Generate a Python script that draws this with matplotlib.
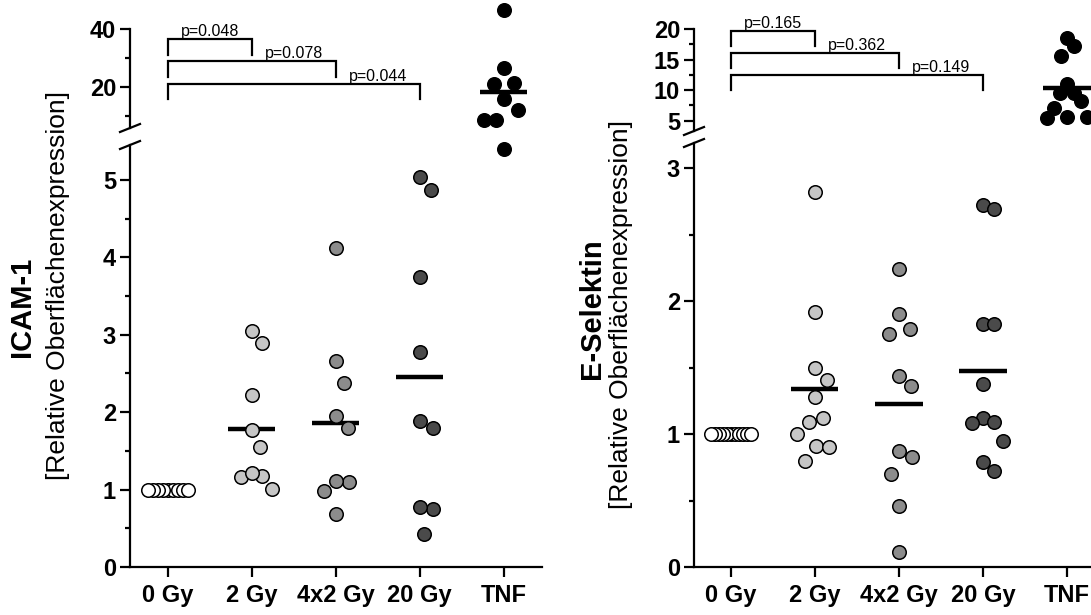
import numpy as np
import matplotlib
matplotlib.use("Agg")
import matplotlib.pyplot as plt
from matplotlib.lines import Line2D
from matplotlib.transforms import IdentityTransform
from matplotlib.ticker import FixedLocator

plt.rcParams['font.family'] = ['Liberation Sans', 'DejaVu Sans']

groups = ['0 Gy', '2 Gy', '4x2 Gy', '20 Gy', 'TNF']
colors = ['white', '#c6c6c6', '#8c8c8c', '#4a4a4a', 'black']

# ICAM-1 (relative to 0 Gy)
icam_0gy = [1, 1, 1, 1, 1, 1, 1, 1, 1]
icam_2gy = [3.05, 2.89, 2.22, 1.77, 1.55, 1.18, 1.16, 1.01, 1.21]
icam_4x2gy = [4.12, 2.66, 2.38, 1.95, 1.80, 1.10, 0.98, 1.11, 0.69]
icam_20gy = [5.04, 4.87, 3.75, 2.78, 1.88, 1.80, 0.75, 0.77, 0.42]
icam_tnf = [46.4, 26.6, 21.4, 21.2, 15.9, 12.2, 8.7, 8.7, 5.4]
icam_p = ['p=0.048', 'p=0.078', 'p=0.044']

# E-Selektin (relative to 0 Gy)
esel_0gy = [1, 1, 1, 1, 1, 1, 1, 1, 1, 1, 1]
esel_2gy = [2.82, 1.92, 1.50, 1.41, 1.28, 1.12, 1.09, 1.00, 0.91, 0.90, 0.80]
esel_4x2gy = [2.24, 1.90, 1.79, 1.75, 1.44, 1.36, 0.87, 0.83, 0.70, 0.46, 0.11]
esel_20gy = [2.72, 2.69, 1.83, 1.83, 1.38, 1.12, 1.09, 1.08, 0.95, 0.79, 0.72]
esel_tnf = [18.5, 17.2, 15.6, 11.0, 9.6, 9.6, 8.2, 7.0, 5.6, 5.6, 5.5]
esel_p = ['p=0.165', 'p=0.362', 'p=0.149']

DIAM = 13.5  # marker diameter in px (dpi 100)
W, H = 1091, 615

fig = plt.figure(figsize=(W / 100, H / 100), dpi=100)


def swarm(ypix, diam, max_half):
    """Greedy beeswarm offsets (px), compressed to max_half if too wide."""
    xs = np.zeros(len(ypix))
    placed = []
    cands = [0.0] + [s * k * 0.5 for k in range(1, 600) for s in (1, -1)]
    for i in np.argsort(-np.asarray(ypix), kind='stable'):
        y = ypix[i]
        for c in cands:
            # vertical distance counts less, so near neighbours spread sideways
            if all((c - px) ** 2 + ((y - py) / 2.2) ** 2 >= (0.95 * diam) ** 2
                   for px, py in placed):
                break
        xs[i] = c
        placed.append((c, y))
    span = np.abs(xs).max()
    if span > max_half:
        xs *= max_half / span
    return xs


def style_axes(ax, upper):
    for s in ['top', 'right']:
        ax.spines[s].set_visible(False)
    ax.spines['left'].set_linewidth(1.6)
    ax.tick_params(axis='y', which='major', length=7, width=1.6, pad=3, labelsize=17)
    ax.tick_params(axis='y', which='minor', length=3.5, width=1.6)
    if upper:
        ax.spines['bottom'].set_visible(False)
        ax.set_xticks([])
    else:
        ax.spines['bottom'].set_linewidth(1.6)
        ax.set_xticks(range(len(groups)))
        ax.set_xticklabels(groups)
        ax.tick_params(axis='x', length=7, width=1.6, pad=5, labelsize=17)
    for lab in ax.get_yticklabels() + ax.get_xticklabels():
        lab.set_fontweight('bold')


def panel(left, width, xlim, low_box, up_box, low_lim, up_lim,
          low_major, low_minor, up_major, up_minor, series, pvals, brackets,
          split):
    ax_lo = fig.add_axes([left, low_box[0], width, low_box[1]])
    ax_up = fig.add_axes([left, up_box[0], width, up_box[1]])
    for ax in (ax_lo, ax_up):
        ax.set_xlim(*xlim)
        ax.patch.set_visible(False)
    ax_lo.set_ylim(*low_lim)
    ax_up.set_ylim(*up_lim)
    ax_lo.yaxis.set_major_locator(FixedLocator(low_major))
    ax_lo.yaxis.set_minor_locator(FixedLocator(low_minor))
    ax_up.yaxis.set_major_locator(FixedLocator(up_major))
    ax_up.yaxis.set_minor_locator(FixedLocator(up_minor))
    style_axes(ax_lo, False)
    style_axes(ax_up, True)

    px_per_x = ax_lo.transData.transform((1, 0))[0] - ax_lo.transData.transform((0, 0))[0]
    for gi, vals in enumerate(series):
        vals = np.asarray(vals, dtype=float)
        ypix = np.array([(ax_up if v > split else ax_lo).transData.transform((0, v))[1]
                         for v in vals])
        off = swarm(ypix, DIAM, 20) / px_per_x
        mean = vals.mean()
        ax_m = ax_up if mean > split else ax_lo
        ax_m.plot([gi - 0.28, gi + 0.28], [mean, mean], color='black', lw=3.2,
                  solid_capstyle='butt', zorder=2, clip_on=False)
        for ax, mask in ((ax_up, vals > split), (ax_lo, vals <= split)):
            if mask.any():
                ax.scatter(gi + off[mask], vals[mask], s=(DIAM * 0.72) ** 2,
                           facecolor=colors[gi], edgecolor='black', linewidth=1.1,
                           zorder=3, clip_on=False)

    # significance brackets (0 Gy vs. group k)
    for k, (ptxt, (ytop, yleg)) in enumerate(zip(pvals, brackets), start=1):
        ax_up.plot([0, 0, k, k], [yleg, ytop, ytop, yleg], color='black', lw=1.6,
                   clip_on=False, solid_joinstyle='miter')
        ax_up.text(k - 0.5, ytop, ptxt, ha='center', va='bottom', fontsize=11.5)

    # axis break marks
    x0 = ax_lo.transAxes.transform((0, 0))[0]
    for ax, ya in ((ax_lo, 1), (ax_up, 0)):
        y0 = ax.transAxes.transform((0, ya))[1]
        fig.add_artist(Line2D([x0 - 10, x0 + 10], [y0 - 4, y0 + 4], color='black',
                              lw=1.6, transform=IdentityTransform()))
    return ax_lo, ax_up


# left panel: ICAM-1
panel(130 / W, 411.6 / W, (-0.45, 4.45),
      (48 / H, 422 / H), ((H - 128) / H, 99 / H),
      (0, 5.45), (6, 40),
      [0, 1, 2, 3, 4, 5], [0.5, 1.5, 2.5, 3.5, 4.5],
      [20, 40], [10, 30],
      [icam_0gy, icam_2gy, icam_4x2gy, icam_20gy, icam_tnf], icam_p,
      [(36.6, 31.1), (28.9, 23.4), (21.1, 15.9)], split=5.6)

# right panel: E-Selektin
panel(694 / W, 415 / W, (-0.44, 4.5),
      (48 / H, 424 / H), ((H - 131) / H, 102 / H),
      (0, 3.19), (3.3, 20),
      [0, 1, 2, 3], [0.5, 1.5, 2.5],
      [5, 10, 15, 20], [7.5, 12.5, 17.5],
      [esel_0gy, esel_2gy, esel_4x2gy, esel_20gy, esel_tnf], esel_p,
      [(19.7, 17.2), (16.1, 13.6), (12.4, 10.0)], split=3.2)

# y-axis titles
fig.text(22 / W, 1 - 307 / H, 'ICAM-1', rotation=90, ha='center', va='center',
         fontsize=21, fontweight='bold')
fig.text(58 / W, 1 - 286 / H, '[Relative Oberflächenexpression]', rotation=90,
         ha='center', va='center', fontsize=19)
fig.text(592 / W, 1 - 309 / H, 'E-Selektin', rotation=90, ha='center', va='center',
         fontsize=21, fontweight='bold')
fig.text(621 / W, 1 - 314 / H, '[Relative Oberflächenexpression]', rotation=90,
         ha='center', va='center', fontsize=19)

fig.savefig('out.png', dpi=100)
